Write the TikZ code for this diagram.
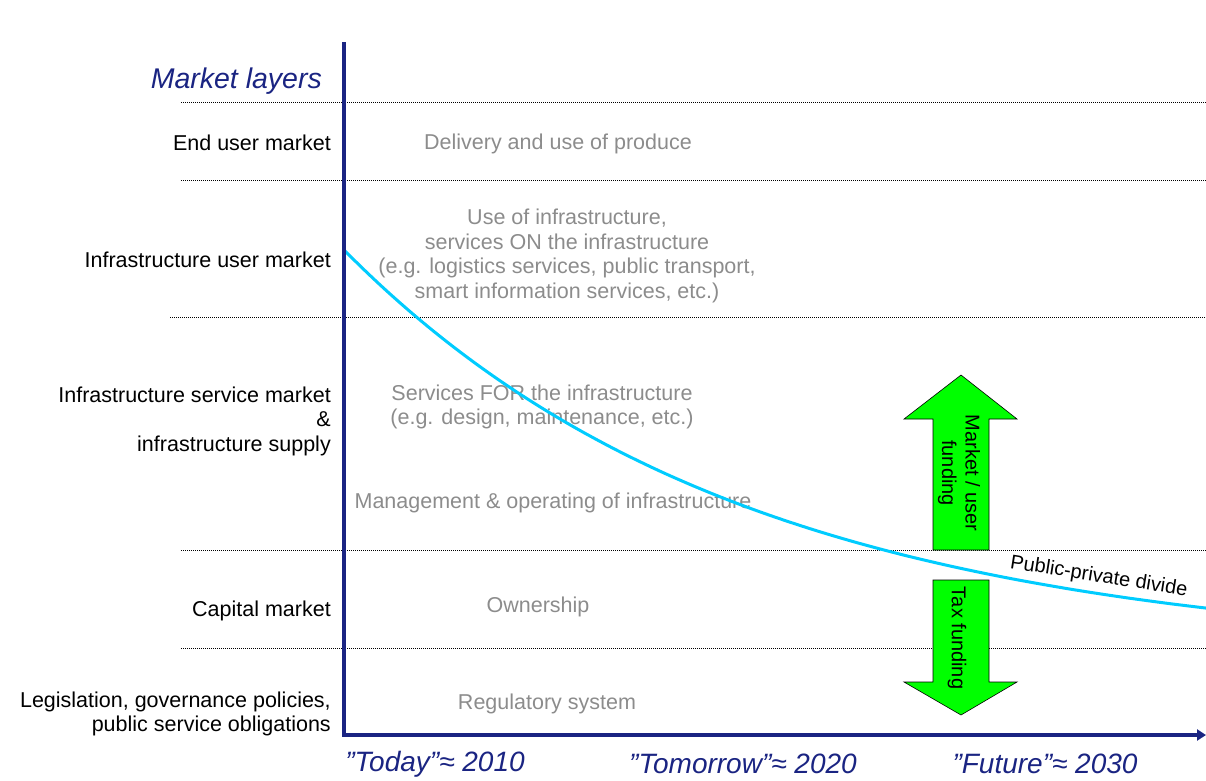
\documentclass[tikz,border=0pt]{standalone}
\usepackage{fontspec}
\setmainfont{Liberation Sans}
\definecolor{MLnavy}{HTML}{1A2482}
\definecolor{MLgray}{HTML}{8C8C8C}
\definecolor{MLcyan}{HTML}{00CCFF}
\definecolor{MLgreen}{HTML}{00FF00}
\usetikzlibrary{arrows.meta}

\begin{document}
\begin{tikzpicture}[x=1pt, y=-1pt,
   layer/.style={anchor=east, align=right, inner sep=0pt,
      font=\fontsize{21.5}{24.5}\selectfont},
   content/.style={text=MLgray, align=center, inner sep=0pt,
      font=\fontsize{21.5}{24.5}\selectfont},
   era/.style={text=MLnavy, inner sep=0pt, font=\fontsize{28}{32}\selectfont\itshape},
   divider/.style={line width=0.7pt, dash pattern=on 1pt off 1pt},
   fundarrow/.style={fill=MLgreen, draw=black, line width=0.6pt},
   fundtext/.style={rotate=-90, align=center, inner sep=0pt,
      font=\fontsize{20}{23.5}\selectfont}
]
   \useasboundingbox (0,0) rectangle (1206,780);
   % Layer dividers
   \foreach \yy/\xs in {102/181, 180/181, 317/170, 550/181, 648/181}
      \draw[divider] (\xs,\yy) -- (1206,\yy);
   % Layer names
   \node[text=MLnavy, inner sep=0pt, anchor=east, font=\fontsize{28.5}{32}\selectfont\itshape]
      (title) at (322,81) {Market layers};
   \node[layer] (enduser) at (331,143) {End user market};
   \node[layer] (infrauser) at (331,260) {Infrastructure user market};
   \node[layer] (infraservice) at (331,421)
      {Infrastructure service market\\ \&\\ infrastructure supply};
   \node[layer] (capital) at (331,611) {Capital market};
   \node[layer] (legislation) at (331,714)
      {Legislation, governance policies,\\ public service obligations};
   % Contents of each layer
   \node[content] (delivery) at (558,144) {Delivery and use of produce};
   \node[content] (useof) at (567,256)
      {Use of infrastructure,\\ services ON the infrastructure\\
       (e.g. logistics services, public transport,\\ smart information services, etc.)};
   \node[content] (servicesfor) at (542,407)
      {Services FOR the infrastructure\\ (e.g. design, maintenance, etc.)};
   \node[content] (management) at (553,503) {Management \& operating of infrastructure};
   \node[content] (ownership) at (538,607) {Ownership};
   \node[content] (regulatory) at (547,704) {Regulatory system};
   % Public-private divide: y = 655 - 405 exp(-(x-344)/400)
   \draw[MLcyan, line width=3pt] plot[domain=344:1206, samples=80, smooth]
      (\x, {655-405*exp(-(\x-344)/400)});
   \node[rotate=-9, anchor=base, inner sep=0pt, font=\fontsize{20}{24}\selectfont]
      (divide) at (1098,582) {Public-private divide};
   % Axes
   \coordinate (ytop) at (344,42);
   \coordinate (origin) at (344,735);
   \coordinate (xend) at (1206,735);
   \draw[MLnavy, line width=3.5pt, -{Triangle[length=9pt, width=11pt]}]
      (ytop) -- (origin) -- (xend);
   \node[era] (today) at (435,764) {”Today”≈ 2010};
   \node[era] (tomorrow) at (743,764) {”Tomorrow”≈ 2020};
   \node[era] (future) at (1045,764) {”Future”≈ 2030};
   % Funding arrows
   \draw[fundarrow] (933,550) -- (933,419) -- (904,419) -- (961,375)
      -- (1017,419) -- (989,419) -- (989,550) -- cycle;
   \draw[fundarrow] (933,580) -- (933,682) -- (904,682) -- (961,715)
      -- (1017,682) -- (989,682) -- (989,580) -- cycle;
   \node[fundtext] (marketfunding) at (959,473) {Market / user\\ funding};
   \node[fundtext] (taxfunding) at (957,638) {Tax funding};
\end{tikzpicture}
\end{document}
